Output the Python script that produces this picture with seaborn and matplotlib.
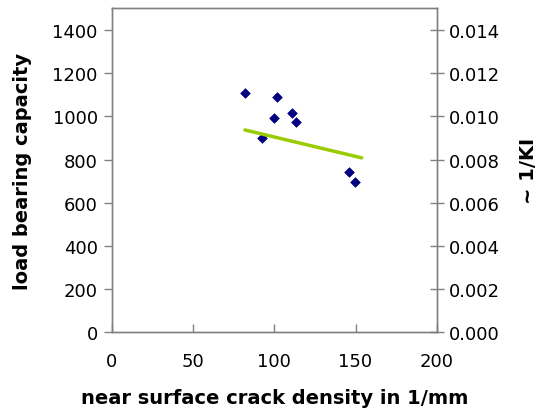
import matplotlib
matplotlib.use("Agg")
import matplotlib.pyplot as plt
import seaborn as sns
import pandas as pd

# data
crack_density = [82.0, 101.7, 99.9, 110.8, 113.2, 92.7, 146.0, 149.5]
load_capacity = [1108, 1091, 992, 1015, 975, 900, 744, 694]
trend_x = [82.0, 153.8]
trend_inv_ki = [0.00937, 0.00808]

x_ticks = [0, 50, 100, 150, 200]
y_ticks = [0, 200, 400, 600, 800, 1000, 1200, 1400]
y2_ticks = [0.000, 0.002, 0.004, 0.006, 0.008, 0.010, 0.012, 0.014]

sns.set_theme(style="white")
plt.rcParams['font.family'] = ['DejaVu Sans']
plt.rcParams['text.color'] = 'black'
plt.rcParams['axes.labelcolor'] = 'black'
plt.rcParams['xtick.color'] = 'black'
plt.rcParams['ytick.color'] = 'black'

fig = plt.figure(figsize=(5.42, 4.10), dpi=100)
ax = fig.add_axes([0.206, 0.187, 0.600, 0.790])
ax2 = ax.twinx()

df = pd.DataFrame({"x": crack_density, "y": load_capacity})
sns.scatterplot(data=df, x="x", y="y", ax=ax, marker="D", s=24,
                color="#000080", edgecolor="#000080", linewidth=0.5, zorder=3)
tdf = pd.DataFrame({"x": trend_x, "y": trend_inv_ki})
sns.lineplot(data=tdf, x="x", y="y", ax=ax2, color="#99CC00", linewidth=2.5)

ax.set_xlim(0, 200)
ax.set_ylim(0, 1500)
ax2.set_ylim(0, 0.015)
ax.set_xticks(x_ticks)
ax.set_yticks(y_ticks)
ax2.set_yticks(y2_ticks)
ax2.set_yticklabels([f"{v:.3f}" for v in y2_ticks])

for a in (ax, ax2):
    for s in a.spines.values():
        s.set_color("#808080")
        s.set_linewidth(1.0)

ax.tick_params(axis="y", direction="out", length=6, width=1, color="#808080",
               labelcolor="black", labelsize=13, pad=4, left=True)
ax.tick_params(axis="x", direction="in", length=6, width=1, color="#808080",
               labelcolor="black", labelsize=13, pad=14, bottom=True)
ax2.tick_params(axis="y", direction="inout", length=10, width=1, color="#808080",
                labelcolor="black", labelsize=13, pad=4, right=True)

ax.set_xlabel("near surface crack density in 1/mm", fontsize=14,
              fontweight="bold", labelpad=13, color="black")
ax.set_ylabel("load bearing capacity", fontsize=14, fontweight="bold",
              labelpad=15, color="black")
ax2.set_ylabel("~ 1/KI", fontsize=14, fontweight="bold", labelpad=13,
               color="black")

fig.savefig("out.png", dpi=100)
